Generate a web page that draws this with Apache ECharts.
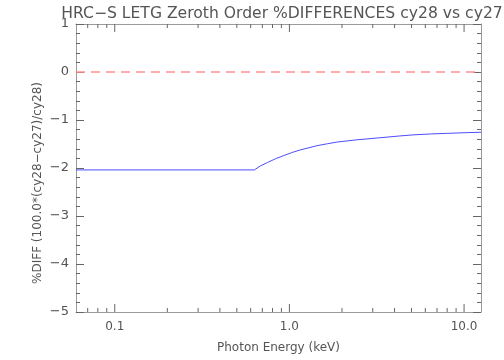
<!DOCTYPE html>
<html><head><meta charset="utf-8">
<script src="https://cdn.jsdelivr.net/npm/echarts@6/dist/echarts.min.js"></script>
<style>html,body{margin:0;padding:0;background:#fff}#c{width:504px;height:360px}</style>
</head><body><div id="c"></div>
<script>
var energy = [0.06, 0.63, 0.68, 0.75, 0.83, 0.93, 1.03, 1.15, 1.44, 1.65, 1.87, 2.4, 3.3, 4.2, 5.1, 6.5, 8.0, 10.0, 12.5];
var pctDiff = [-2.04, -2.04, -1.96, -1.885, -1.81, -1.74, -1.68, -1.625, -1.535, -1.495, -1.46, -1.415, -1.37, -1.335, -1.31, -1.29, -1.278, -1.265, -1.255];
var zeroRef = [[0.06, 0], [12.5, 0]];
var xTickValues = [0.1, 1, 10];
var xTickLabels = ['0.1', '1.0', '10.0'];
var xMinorTicks = [0.07, 0.08, 0.09, 0.2, 0.3, 0.4, 0.5, 0.6, 0.7, 0.8, 0.9, 2, 3, 4, 5, 6, 7, 8, 9];
var yTickLabels = ['1', '0', '−1', '−2', '−3', '−4', '−5'];
var titleText = 'HRC−S LETG Zeroth Order %DIFFERENCES cy28 vs cy27';
var xName = 'Photon Energy (keV)';
var yName = '%DIFF (100.0*(cy28−cy27)/cy28)';

var XMIN = 0.06, XMAX = 12.5, YMIN = -5, YMAX = 1;
var FONT = 'DejaVu Sans';
var axisCol = '#9a9a9a', tickCol = '#666', textCol = '#555';

function xLabel(v) {
  for (var i = 0; i < xTickValues.length; i++) {
    if (Math.abs(v - xTickValues[i]) < 1e-6 * xTickValues[i]) return xTickLabels[i];
  }
  return '';
}
function yLabel(v) {
  var idx = Math.round(YMAX - v);
  if (Math.abs(YMAX - v - idx) < 1e-6 && idx >= 0 && idx < yTickLabels.length) return yTickLabels[idx];
  return '';
}

var tickData = xTickValues.map(function (v) { return [v, 8]; })
  .concat(xMinorTicks.map(function (v) { return [v, 4]; }));

var chart = echarts.init(document.getElementById('c'), null, {renderer: 'canvas'});
var baseX = {
  type: 'log', logBase: 10, min: XMIN, max: XMAX,
  axisLine: {show: true, onZero: false, lineStyle: {color: axisCol, width: 1}},
  axisTick: {show: false},
  splitLine: {show: false}
};
var baseY = {
  type: 'value', min: YMIN, max: YMAX, interval: 1,
  axisLine: {show: true, onZero: false, lineStyle: {color: axisCol, width: 1}},
  axisTick: {show: true, inside: true, length: 8, lineStyle: {color: tickCol}},
  minorTick: {show: true, splitNumber: 5, length: 4, lineStyle: {color: tickCol}},
  splitLine: {show: false}
};
var option = {
  animation: false,
  backgroundColor: '#fff',
  title: {
    text: titleText, left: 277, textAlign: 'center', top: 1,
    textStyle: {fontFamily: FONT, fontSize: 15.6, fontWeight: 'normal', color: '#555'}
  },
  grid: {left: 76, right: 23, top: 24, bottom: 48, containLabel: false},
  xAxis: [
    Object.assign({}, baseX, {
      position: 'bottom', name: xName, nameLocation: 'middle', nameGap: 30, nameMoveOverlap: false,
      nameTextStyle: {fontFamily: FONT, fontSize: 12, color: textCol},
      axisLabel: {show: true, margin: 9, fontFamily: FONT, fontSize: 12, color: textCol,
        formatter: xLabel, showMinLabel: false, showMaxLabel: false}
    }),
    Object.assign({}, baseX, {position: 'top', axisLabel: {show: false}})
  ],
  yAxis: [
    Object.assign({}, baseY, {
      position: 'left', name: yName, nameLocation: 'middle', nameGap: 32, nameRotate: 90, nameMoveOverlap: false,
      nameTextStyle: {fontFamily: FONT, fontSize: 12, color: textCol, padding: [0, 30, 0, 0]},
      axisLabel: {show: true, margin: 7, fontFamily: FONT, fontSize: 13, color: textCol, formatter: yLabel}
    }),
    Object.assign({}, baseY, {position: 'right', axisLabel: {show: false}})
  ],
  series: [
    {
      type: 'line', data: zeroRef, xAxisIndex: 0, yAxisIndex: 0, symbol: 'none',
      lineStyle: {color: '#ff9090', width: 1.5, type: [9, 6]}, silent: true, z: 2
    },
    {
      type: 'line', data: energy.map(function (e, i) { return [e, pctDiff[i]]; }),
      xAxisIndex: 0, yAxisIndex: 0, symbol: 'none',
      lineStyle: {color: '#4d4dff', width: 1}, z: 3
    },
    {
      type: 'custom', xAxisIndex: 0, yAxisIndex: 0, silent: true, z: 4, clip: false,
      data: tickData,
      renderItem: function (params, api) {
        var len = api.value(1);
        var b = api.coord([api.value(0), YMIN]);
        var t = api.coord([api.value(0), YMAX]);
        var st = {stroke: tickCol, lineWidth: 1};
        return {type: 'group', children: [
          {type: 'line', shape: {x1: b[0], y1: b[1], x2: b[0], y2: b[1] - len}, style: st},
          {type: 'line', shape: {x1: t[0], y1: t[1], x2: t[0], y2: t[1] + len}, style: st}
        ]};
      }
    }
  ]
};
chart.setOption(option);
</script>
</body></html>
